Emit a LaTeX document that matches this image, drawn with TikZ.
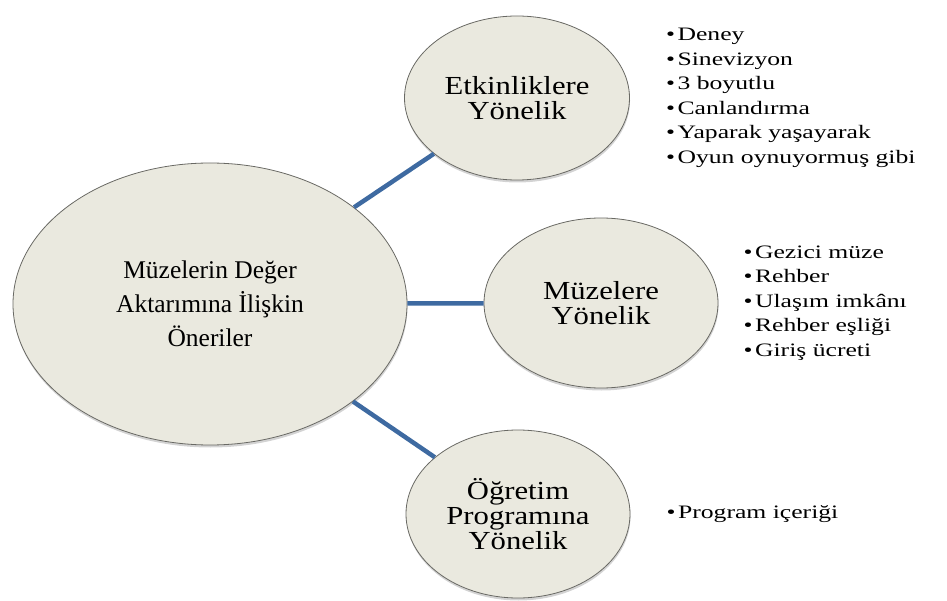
\documentclass[tikz,border=0pt]{standalone}
\usepackage{fontspec}
\setmainfont{Liberation Serif}
\newfontfamily\bubblefont[FakeStretch=1.18]{Liberation Serif}
\newfontfamily\listfont[FakeStretch=1.35]{Liberation Serif}
\usepackage{tikz}
\usetikzlibrary{shapes.geometric,positioning,shadows}
\definecolor{bubblefill}{RGB}{234,233,223}
\definecolor{bubbleline}{RGB}{105,105,100}
\definecolor{spokeblue}{RGB}{62,106,161}
\newcommand{\itm}{\textbullet\hspace{2.5pt}}

\begin{document}
\begin{tikzpicture}[
x=1pt, y=-1pt,
bubble/.style={
	ellipse, draw=bubbleline, line width=0.8pt,
	fill=bubblefill, inner sep=0pt, align=center,
	drop shadow={shadow xshift=0.5pt, shadow yshift=-2.5pt, opacity=.35},
	font=\bubblefont\fontsize{26}{25}\selectfont
},
items/.style={
	inner sep=0pt, align=left, anchor=west,
	font=\listfont\fontsize{19}{24.5}\selectfont
},
spoke/.style={draw=spokeblue, line width=4.5pt}
]
\useasboundingbox (0,0) rectangle (947,601);
\node[bubble, minimum width=394pt, minimum height=282pt,
	font=\fontsize{25.5}{34}\selectfont] (main) at (210,304)
	{Müzelerin Değer\\Aktarımına İlişkin\\Öneriler};
\node[bubble, minimum width=225pt, minimum height=164pt] (etk) at (517,98)
	{Etkinliklere\\Yönelik};
\node[bubble, minimum width=234pt, minimum height=170pt] (muz) at (601,303)
	{Müzelere\\Yönelik};
\node[bubble, minimum width=224pt, minimum height=168pt] (ogr) at (518,514)
	{Öğretim\\Programına\\Yönelik};
% spokes
\foreach \b in {etk,muz,ogr}
	\draw[spoke] (main) -- (\b);
% item lists
\node[items, right=36pt of etk] (etklist)
	{\itm Deney\\\itm Sinevizyon\\\itm 3 boyutlu\\
	 \itm Canlandırma\\\itm Yaparak yaşayarak\\
	 \itm Oyun oynuyormuş gibi};
\node[items, right=25pt of muz] (muzlist)
	{\itm Gezici müze\\\itm Rehber\\\itm Ulaşım imkânı\\
	 \itm Rehber eşliği\\\itm Giriş ücreti};
\node[items, right=36pt of ogr] (ogrlist)
	{\itm Program içeriği};
\end{tikzpicture}
\end{document}
